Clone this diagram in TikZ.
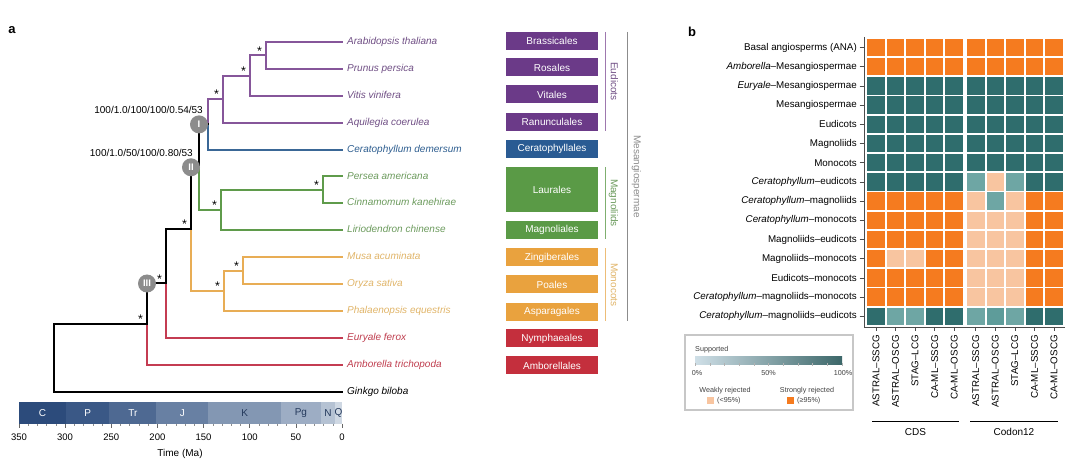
\documentclass[tikz,border=0pt]{standalone}
\usepackage{fontspec}
\setmainfont{Liberation Sans}
\usetikzlibrary{positioning}

\definecolor{eudline}{HTML}{86569A}
\definecolor{eudtext}{HTML}{6F4E84}
\definecolor{eudbox}{HTML}{6B3A88}
\definecolor{cerline}{HTML}{3A6796}
\definecolor{certext}{HTML}{2D5D8F}
\definecolor{cerbox}{HTML}{2A5B93}
\definecolor{magline}{HTML}{5F9B4B}
\definecolor{magtext}{HTML}{6B9A5C}
\definecolor{magbox}{HTML}{5A9A46}
\definecolor{monline}{HTML}{E8AD55}
\definecolor{montext}{HTML}{E0B468}
\definecolor{monbox}{HTML}{E9A23E}
\definecolor{nymline}{HTML}{C43C52}
\definecolor{nymtext}{HTML}{BF3D4E}
\definecolor{nymbox}{HTML}{C42F3D}
\definecolor{cladegray}{HTML}{8C8C8C}
\definecolor{hmO}{HTML}{F57B1F}
\definecolor{hmT}{HTML}{2F6D6D}
\definecolor{hmW}{HTML}{F8C5A0}
\definecolor{hmM}{HTML}{6EA6A4}
\definecolor{hmN}{HTML}{5E9C9A}
\definecolor{gradlo}{HTML}{CFDFE7}
\definecolor{gradhi}{HTML}{3C6769}
\definecolor{tsC}{HTML}{2C4B7B}
\definecolor{tsP}{HTML}{3A5886}
\definecolor{tsTr}{HTML}{4E6992}
\definecolor{tsJ}{HTML}{6880A3}
\definecolor{tsK}{HTML}{8397B3}
\definecolor{tsPg}{HTML}{9DADC4}
\definecolor{tsN}{HTML}{B5C2D3}
\definecolor{tsQ}{HTML}{CFD8E3}
\definecolor{tsdark}{HTML}{24395C}

\tikzset{br/.style={line width=2pt, line cap=rect}}
\tikzset{sp/.style={font=\fontsize{10}{12}\selectfont\itshape, inner sep=0pt, text height=7.2pt, text depth=2pt}}
\tikzset{ordbox/.style={minimum width=92pt, minimum height=18pt, inner sep=0pt, text=white, font=\fontsize{10}{12}\selectfont}}
\tikzset{cladebar/.style={line width=1.2pt}}
\tikzset{cladelbl/.style={rotate=-90, anchor=south, inner sep=5pt, text depth=0pt, font=\fontsize{10}{12}\selectfont}}
\tikzset{cc/.style={circle, fill=cladegray, minimum size=18pt, inner sep=0pt, text=white, font=\fontsize{9.5}{10}\selectfont\bfseries}}
\tikzset{supp/.style={inner sep=0pt, font=\fontsize{10}{12}\selectfont}}
\tikzset{starlbl/.style={inner sep=0pt, font=\fontsize{12.5}{13}\selectfont}}
\tikzset{rowlbl/.style={anchor=east, inner sep=0pt, font=\fontsize{9.8}{12}\selectfont}}
\tikzset{collbl/.style={rotate=90, anchor=east, inner sep=0pt, font=\fontsize{9.8}{12}\selectfont}}
\tikzset{hcell/.style={minimum size=17.5pt, inner sep=0pt}}
\tikzset{axisln/.style={line width=0.6pt, draw=black!70}}
\tikzset{small/.style={inner sep=0pt, font=\fontsize{7.2}{9}\selectfont, text=black!75}}

\begin{document}
\begin{tikzpicture}[x=1pt, y=-1pt]

    \useasboundingbox (0,0) rectangle (1080,462);

    \node[font=\fontsize{13}{15}\selectfont\bfseries] (pa) at (12,30) {a};
    \node[font=\fontsize{13}{15}\selectfont\bfseries] (pb) at (692,32) {b};

    % tips
    \foreach \i in {1,...,14}
        \coordinate (t\i) at (342, {42+(\i-1)*26.9});

    \node[sp, text=eudtext, right=5pt of t1] (arab) {Arabidopsis thaliana};
    \node[sp, text=eudtext, right=5pt of t2] (prun) {Prunus persica};
    \node[sp, text=eudtext, right=5pt of t3] (viti) {Vitis vinifera};
    \node[sp, text=eudtext, right=5pt of t4] (aqui) {Aquilegia coerulea};
    \node[sp, text=certext, right=5pt of t5] (cera) {Ceratophyllum demersum};
    \node[sp, text=magtext, right=5pt of t6] (pers) {Persea americana};
    \node[sp, text=magtext, right=5pt of t7] (cinn) {Cinnamomum kanehirae};
    \node[sp, text=magtext, right=5pt of t8] (liri) {Liriodendron chinense};
    \node[sp, text=montext, right=5pt of t9] (musa) {Musa acuminata};
    \node[sp, text=montext, right=5pt of t10] (oryz) {Oryza sativa};
    \node[sp, text=montext, right=5pt of t11] (phal) {Phalaenopsis equestris};
    \node[sp, text=nymtext, right=5pt of t12] (eury) {Euryale ferox};
    \node[sp, text=nymtext, right=5pt of t13] (ambo) {Amborella trichopoda};
    \node[sp, text=black, right=5pt of t14] (gink) {Ginkgo biloba};

    % internal nodes
    \coordinate (n1) at (266,55.45);
    \coordinate (n2) at (250,75.6);
    \coordinate (n3) at (223,99.2);
    \coordinate (n4) at (208,124.4);
    \coordinate (n5) at (323,190);
    \coordinate (n6) at (221,210.1);
    \coordinate (n7) at (199,167.3);
    \coordinate (n8) at (243,270.6);
    \coordinate (n9) at (224,290.8);
    \coordinate (n10) at (191,229);
    \coordinate (n11) at (166,283.5);
    \coordinate (n12) at (147,324.1);
    \coordinate (n13) at (54,357.9);

    \draw[br, eudline] (t1) -| (n1);
    \draw[br, eudline] (t2) -| (n1);
    \draw[br, eudline] (n1) -| (n2);
    \draw[br, eudline] (t3) -| (n2);
    \draw[br, eudline] (n2) -| (n3);
    \draw[br, eudline] (t4) -| (n3);
    \draw[br, eudline] (n3) -| (n4);
    \draw[br, cerline] (t5) -| (n4);
    \draw[br, magline] (t6) -| (n5);
    \draw[br, magline] (t7) -| (n5);
    \draw[br, magline] (n5) -| (n6);
    \draw[br, magline] (t8) -| (n6);
    \draw[br, black] (n4) -| (n7);
    \draw[br, magline] (n6) -| (n7);
    \draw[br, monline] (t9) -| (n8);
    \draw[br, monline] (t10) -| (n8);
    \draw[br, monline] (n8) -| (n9);
    \draw[br, monline] (t11) -| (n9);
    \draw[br, black] (n7) -| (n10);
    \draw[br, monline] (n9) -| (n10);
    \draw[br, black] (n10) -| (n11);
    \draw[br, nymline] (t12) -| (n11);
    \draw[br, black] (n11) -| (n12);
    \draw[br, nymline] (t13) -| (n12);
    \draw[br, black] (n12) -| (n13);
    \draw[br, black] (t14) -| (n13);

    % support
    \foreach \n in {n1,n2,n3,n5,n6,n8,n9,n10,n11,n12}
        \node[starlbl] at ([xshift=-6.5pt, yshift=4.5pt]\n) {*};

    \node[cc] (c1) at (n7 |- n4) {I};
    \node[cc] (c2) at (n10 |- n7) {II};
    \node[cc] (c3) at (n12 |- n11) {III};
    \node[supp, anchor=east] (bs1) at (203,110) {100/1.0/100/100/0.54/53};
    \node[supp, anchor=east] (bs2) at (193,153) {100/1.0/50/100/0.80/53};

    % orders
    \node[ordbox, fill=eudbox] (brass) at (552,41) {Brassicales};
    \node[ordbox, fill=eudbox] (rosal) at (552,67.5) {Rosales};
    \node[ordbox, fill=eudbox] (vital) at (552,94.5) {Vitales};
    \node[ordbox, fill=eudbox] (ranun) at (552,122) {Ranunculales};
    \node[ordbox, fill=cerbox] (cerat) at (552,149) {Ceratophyllales};
    \node[ordbox, fill=magbox, minimum height=45pt] (laura) at (552,189.5) {Laurales};
    \node[ordbox, fill=magbox] (magno) at (552,230) {Magnoliales};
    \node[ordbox, fill=monbox] (zingi) at (552,257.5) {Zingiberales};
    \node[ordbox, fill=monbox] (poale) at (552,284.5) {Poales};
    \node[ordbox, fill=monbox] (aspar) at (552,312) {Asparagales};
    \node[ordbox, fill=nymbox] (nymph) at (552,338.5) {Nymphaeales};
    \node[ordbox, fill=nymbox] (ambor) at (552,365.5) {Amborellales};

    \draw[cladebar, eudline!80] ([xshift=7pt]brass.north east) -- ([xshift=7pt]ranun.south east)
        node[midway, cladelbl, text=eudtext] {Eudicots};
    \draw[cladebar, magline!80] ([xshift=7pt]laura.north east) -- ([xshift=7pt]magno.south east)
        node[midway, cladelbl, text=magtext] {Magnoliids};
    \draw[cladebar, monline!80] ([xshift=7pt]zingi.north east) -- ([xshift=7pt]aspar.south east)
        node[midway, cladelbl, text=montext] {Monocots};
    \draw[cladebar, cladegray] ([xshift=29pt]brass.north east) -- ([xshift=29pt]aspar.south east)
        node[midway, cladelbl, inner sep=6pt, text=cladegray] {Mesangiospermae};

    % time scale
    \foreach \a/\b/\lab/\col/\tc in {350/299/C/tsC/white, 299/252/P/tsP/white, 252/201/Tr/tsTr/white,
            201/145/J/tsJ/white, 145/66/K/tsK/tsdark, 66/23/Pg/tsPg/tsdark, 23/7.5/N/tsN/tsdark, 7.5/0/Q/tsQ/tsdark} {
        \fill[\col] ({342-0.923*\a},402) rectangle ({342-0.923*\b},424);
        \node[supp, text=\tc] at ({342-0.923*(\a+\b)/2},413) {\lab};
    }
    \foreach \t in {0,10,...,350}
        \draw[black!45, line width=0.5pt] ({342-0.923*\t},424) -- ({342-0.923*\t},426.5);
    \foreach \t in {0,50,...,350} {
        \draw[black!60, line width=0.6pt] ({342-0.923*\t},424) -- ({342-0.923*\t},428);
        \node[supp, font=\fontsize{9.5}{11}\selectfont] at ({342-0.923*\t},437.5) {\t};
    }
    \node[supp] (tlab) at (180,454) {Time (Ma)};

    % panel b
    \foreach \lbl [count=\i] in {{Basal angiosperms (ANA)}, {\textit{Amborella}--Mesangiospermae},
            {\textit{Euryale}--Mesangiospermae}, {Mesangiospermae}, {Eudicots}, {Magnoliids}, {Monocots},
            {\textit{Ceratophyllum}--eudicots}, {\textit{Ceratophyllum}--magnoliids},
            {\textit{Ceratophyllum}--monocots}, {Magnoliids--eudicots}, {Magnoliids--monocots},
            {Eudicots--monocots}, {\textit{Ceratophyllum}--magnoliids--monocots},
            {\textit{Ceratophyllum}--magnoliids--eudicots}} {
        \node[rowlbl] (row-\i) at (857, {47.5+(\i-1)*19.2}) {\lbl};
        \draw[axisln] (859.5, {47.5+(\i-1)*19.2}) -- (864, {47.5+(\i-1)*19.2});
    }

    \foreach \r [count=\i] in {{O,O,O,O,O,O,O,O,O,O}, {O,O,O,O,O,O,O,O,O,O},
            {T,T,T,T,T,T,T,T,T,T}, {T,T,T,T,T,T,T,T,T,T}, {T,T,T,T,T,T,T,T,T,T},
            {T,T,T,T,T,T,T,T,T,T}, {T,T,T,T,T,T,T,T,T,T}, {T,T,T,T,T,M,W,M,T,T},
            {O,O,O,O,O,W,M,W,O,O}, {O,O,O,O,O,W,W,W,O,O}, {O,O,O,O,O,W,W,W,O,O},
            {O,W,W,O,O,W,W,W,O,O}, {O,O,O,O,O,W,W,W,O,O}, {O,O,O,O,O,W,W,W,O,O},
            {T,M,M,T,T,M,N,M,T,T}} {
        \foreach \c [count=\j] in \r {
            \pgfmathsetmacro\cx{876+(\j-1)*19.55+(\j>5)*2}
            \node[hcell, fill=hm\c] (cell-\i-\j) at (\cx, {47.5+(\i-1)*19.2}) {};
        }
    }
    \draw[axisln] (864,37) -- (864,327) -- (1065,327);

    \foreach \lbl [count=\j] in {ASTRAL--SSCG, ASTRAL--OSCG, STAG--LCG, CA-ML--SSCG, CA-ML--OSCG,
            ASTRAL--SSCG, ASTRAL--OSCG, STAG--LCG, CA-ML--SSCG, CA-ML--OSCG} {
        \pgfmathsetmacro\cx{876+(\j-1)*19.55+(\j>5)*2}
        \draw[axisln] (\cx,327) -- (\cx,331);
        \node[collbl] (col-\j) at (\cx,335) {\lbl};
    }
    \draw[line width=1pt] (872,422) -- (959,422) node[midway, below=6pt, supp] (cds) {CDS};
    \draw[line width=1pt] (970,422) -- (1058,422) node[midway, below=6pt, supp] (cod) {Codon12};

    % legend
    \draw[black!22, line width=2pt] (685,335) rectangle (853,410);
    \node[small, anchor=west] (lsup) at (695,350) {Supported};
    \shade[left color=gradlo, right color=gradhi] (695,357) rectangle (842,365);
    \foreach \k in {0,...,10}
        \draw[white!70!black, line width=0.4pt] ({695+\k*14.7},363.5) -- ({695+\k*14.7},366);
    \node[small] (l0) at (697,373) {0\%};
    \node[small] (l50) at (768.5,373) {50\%};
    \node[small] (l100) at (843,373) {100\%};
    \node[small] (lw) at (725,391) {Weakly rejected};
    \node[small] (ls) at (807,391) {Strongly rejected};
    \fill[hmW] (707,397) rectangle (714,404);
    \fill[hmO] (787,397) rectangle (794,404);
    \node[small, anchor=west] (lwv) at (717,400.5) {(<95\%)};
    \node[small, anchor=west] (lsv) at (797,400.5) {(≥95\%)};

\end{tikzpicture}
\end{document}
